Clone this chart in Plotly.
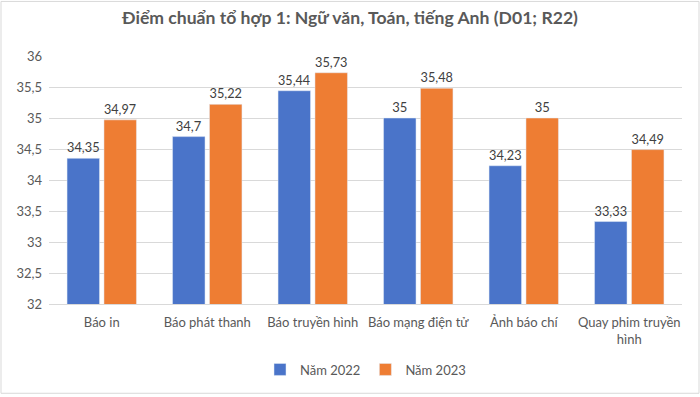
import plotly.graph_objects as go

categories = ["Báo in", "Báo phát thanh", "Báo truyền hình", "Báo mạng điện tử", "Ảnh báo chí", "Quay phim truyền<br>hình"]
values_2022 = [34.35, 34.7, 35.44, 35, 34.23, 33.33]
values_2023 = [34.97, 35.22, 35.73, 35.48, 35, 34.49]
series_names = ["Năm 2022", "Năm 2023"]
title_text = "Điểm chuẩn tổ hợp 1: Ngữ văn, Toán, tiếng Anh (D01; R22)"

def fmt(v):
    return str(v).replace(".", ",")

FONT = "Lato, 'Open Sans', sans-serif"
TXT = "#595959"

fig = go.Figure()
fig.add_trace(go.Bar(
    x=categories, y=values_2022, name=series_names[0],
    marker=dict(color="#4a74c9"),
    text=[fmt(v) for v in values_2022], textposition="outside",
    textfont=dict(size=13, color="#404040", family=FONT),
    cliponaxis=False,
))
fig.add_trace(go.Bar(
    x=categories, y=values_2023, name=series_names[1],
    marker=dict(color="#ee7d33"),
    text=[fmt(v) for v in values_2023], textposition="outside",
    textfont=dict(size=13, color="#404040", family=FONT),
    cliponaxis=False,
))

L, R, T, B = 49, 18, 56, 91
W, H = 700, 397
pw, ph = W - L - R, H - T - B

fig.update_layout(
    width=W, height=H,
    margin=dict(l=L, r=R, t=T, b=B),
    paper_bgcolor="white", plot_bgcolor="white",
    separators=",.",
    barmode="group", bargap=0.3, bargroupgap=0.12,
    title=dict(text="<b>" + title_text + "</b>", x=0.5, xanchor="center",
               y=1 - 18 / H, yanchor="middle",
               font=dict(size=17.6, color=TXT, family=FONT)),
    font=dict(family=FONT, color=TXT, size=13),
    yaxis=dict(range=[32, 36], dtick=0.5, showgrid=True, gridcolor="#d9d9d9",
               gridwidth=1, zeroline=False, showline=False, ticks="",
               tickfont=dict(size=13, color=TXT), ticklabelstandoff=6),
    xaxis=dict(showline=True, linecolor="#d9d9d9", ticks="",
               tickfont=dict(size=13, color=TXT), ticklabelstandoff=6),
    legend=dict(orientation="h", x=0.5, xanchor="center", y=-(372 - 306) / ph,
                yanchor="middle", font=dict(size=13, color=TXT),
                itemwidth=30, traceorder="normal"),
    showlegend=True,
)

fig.add_shape(type="rect", xref="paper", yref="paper",
              x0=(1 - L) / pw, x1=(W - 1 - L) / pw,
              y0=(H - B - (H - 1)) / ph, y1=(H - B - 1) / ph,
              line=dict(color="#d9d9d9", width=1), layer="below")

fig.write_html("out.html", config={"displayModeBar": False},
               post_script="document.body.style.margin='0';document.body.style.overflow='hidden';")
